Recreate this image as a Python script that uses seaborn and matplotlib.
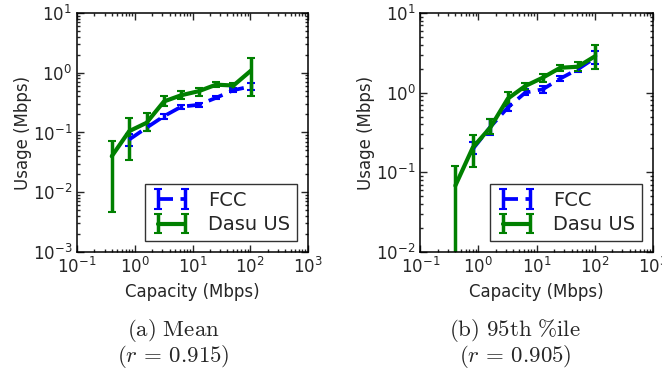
import numpy as np
import matplotlib
matplotlib.use("Agg")
import matplotlib.pyplot as plt
import seaborn as sns

# capacity bins (Mbps)
capacity = [0.4, 0.8, 1.6, 3.2, 6.4, 12.8, 25.6, 51.2, 102.4]
fcc_capacity = capacity[1:]

# (a) mean usage
dasu_mean = [0.040, 0.105, 0.145, 0.33, 0.42, 0.49, 0.63, 0.61, 1.08]
dasu_mean_lo = [0.0046, 0.035, 0.105, 0.275, 0.36, 0.41, 0.58, 0.51, 0.40]
dasu_mean_hi = [0.072, 0.176, 0.213, 0.40, 0.49, 0.56, 0.69, 0.67, 1.76]
fcc_mean = [0.076, 0.12, 0.187, 0.27, 0.29, 0.38, 0.51, 0.59]
fcc_mean_lo = [0.059, 0.105, 0.17, 0.25, 0.27, 0.36, 0.47, 0.52]
fcc_mean_hi = [0.095, 0.14, 0.205, 0.29, 0.31, 0.40, 0.55, 0.66]

# (b) 95th percentile usage
dasu_p95 = [0.068, 0.205, 0.365, 0.84, 1.21, 1.54, 2.05, 2.11, 2.87]
dasu_p95_lo = [0.005, 0.115, 0.30, 0.68, 1.08, 1.36, 1.87, 1.85, 2.0]
dasu_p95_hi = [0.121, 0.296, 0.46, 1.02, 1.33, 1.69, 2.2, 2.42, 3.9]
fcc_p95 = [0.196, 0.37, 0.65, 1.0, 1.1, 1.5, 1.96, 2.74]
fcc_p95_lo = [0.17, 0.29, 0.58, 0.92, 1.0, 1.4, 1.8, 2.26]
fcc_p95_hi = [0.24, 0.47, 0.72, 1.1, 1.2, 1.6, 2.15, 3.3]

sns.set_style("ticks", {"xtick.direction": "in", "ytick.direction": "in"})
plt.rcParams["font.family"] = ["DejaVu Sans"]
plt.rcParams["mathtext.fontset"] = "cm"
plt.rcParams["axes.linewidth"] = 1.1
plt.rcParams["axes.edgecolor"] = "black"


def errs(y, lo, hi):
    y = np.array(y)
    return [y - np.array(lo), np.array(hi) - y]


def panel(ax, fy, flo, fhi, dy, dlo, dhi, ylim):
    ax.errorbar(fcc_capacity, fy, yerr=errs(fy, flo, fhi), color="blue",
                ls="--", dashes=(4, 2), lw=2.7, elinewidth=2.5, capsize=3,
                capthick=1.5, label="FCC")
    ax.errorbar(capacity, dy, yerr=errs(dy, dlo, dhi), color="green",
                ls="-", lw=3, elinewidth=2.5, capsize=3, capthick=1.5,
                label="Dasu US")
    ax.set_xscale("log")
    ax.set_yscale("log")
    ax.set_xlim(0.1, 1000)
    ax.set_ylim(*ylim)
    ax.tick_params(which="both", direction="in", top=True, right=True,
                   labelsize=12, width=1)
    ax.tick_params(which="major", length=5)
    ax.tick_params(which="minor", length=2.5)
    ax.set_xlabel("Capacity (Mbps)", fontsize=12, fontfamily="DejaVu Sans")
    ax.set_ylabel("Usage (Mbps)", fontsize=12, fontfamily="DejaVu Sans", labelpad=0.5)
    for lab in ax.get_xticklabels() + ax.get_yticklabels():
        lab.set_fontfamily("DejaVu Sans")
    leg = ax.legend(loc="lower right", fontsize=14, frameon=True, fancybox=False,
                    numpoints=2, handlelength=2.0, handletextpad=0.9, borderpad=0.35,
                    labelspacing=0.3, borderaxespad=0.55)
    leg.get_frame().set_edgecolor("black")
    leg.get_frame().set_linewidth(1.0)


fig = plt.figure(figsize=(6.62, 3.73), dpi=100)
ax1 = fig.add_axes([0.1163, 0.3244, 0.349, 0.641])
ax2 = fig.add_axes([0.635, 0.3244, 0.351, 0.641])

panel(ax1, fcc_mean, fcc_mean_lo, fcc_mean_hi,
      dasu_mean, dasu_mean_lo, dasu_mean_hi, (1e-3, 1e1))
panel(ax2, fcc_p95, fcc_p95_lo, fcc_p95_hi,
      dasu_p95, dasu_p95_lo, dasu_p95_hi, (1e-2, 1e1))

fig.text(173 / 662, 1 - 331 / 373, r"$\mathrm{(a)\ Mean}$", ha="center", va="center", fontsize=16.5)
fig.text(173 / 662, 1 - 357 / 373, r"$(r\,=\,0.915)$", ha="center", va="center", fontsize=16.5)
fig.text(515 / 662, 1 - 331 / 373, r"$\mathrm{(b)\ 95th\ \%ile}$", ha="center", va="center", fontsize=16.5)
fig.text(515 / 662, 1 - 357 / 373, r"$(r\,=\,0.905)$", ha="center", va="center", fontsize=16.5)

fig.savefig("out.png", dpi=100)
